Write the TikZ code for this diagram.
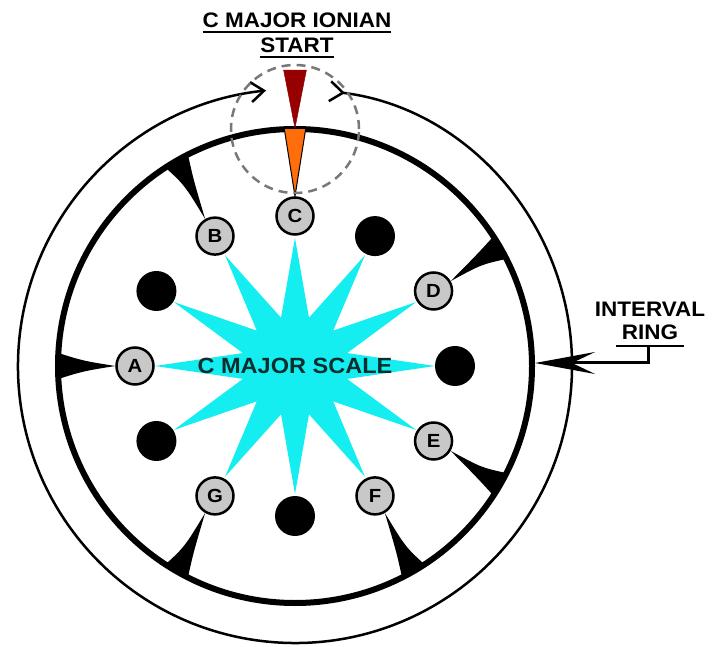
\documentclass[tikz,border=0pt]{standalone}
\usepackage{fontspec}
\setmainfont{Liberation Sans}[FakeStretch=1.07]
\usetikzlibrary{arrows.meta, positioning, calc}
\definecolor{starcolor}{RGB}{20,238,240}
\definecolor{notecolor}{RGB}{200,200,200}
\definecolor{startred}{RGB}{150,0,0}
\definecolor{startorange}{RGB}{255,110,10}
\definecolor{dashgray}{RGB}{120,120,120}
\definecolor{scaleink}{RGB}{10,45,45}

\begin{document}
\begin{tikzpicture}[
    x=1pt, y=1pt,
    note/.style={circle, draw, line width=2.5pt, fill=notecolor, minimum size=37pt, inner sep=0pt, font=\bfseries\fontsize{19}{19}\selectfont},
    blanknote/.style={circle, fill=black, minimum size=40pt, inner sep=0pt},
    headtext/.style={inner sep=0pt, anchor=base, font=\bfseries\fontsize{21}{21}\selectfont},
    uline/.style={line width=2.5pt},
    notepointer/.style={fill=black},
    intervalarrow/.style={line width=3pt, -{Stealth[length=60pt, width=22pt, inset=23pt]}},
    ringarrow/.style={line width=2.5pt, {Straight Barb[reversed, length=13pt, width=20pt]}-{Straight Barb[length=13pt, width=20pt]}}
]
    \useasboundingbox (-295,-281) rectangle (419,366);

    % Scale star
    \fill[starcolor] (90:140 and 128)
        \foreach \k in {0,...,11}{ -- ({75-30*\k}:54 and 50) -- ({60-30*\k}:140 and 128)} -- cycle;

    % Rings
    \draw[line width=6pt] (0,0) circle[radius=237];
    \draw[ringarrow] (83:277) arc[start angle=83, end angle=-264, radius=277];

    % Notes of the scale
    \foreach \ang/\nm/\txt in {90/c/C, 30/d/D, -30/e/E, -60/f/F, -120/g/G, 180/a/A, 120/b/B}
        \node[note] (note\nm) at (\ang:160 and 150) {\txt};
    \foreach \ang/\nm in {60/one, 0/two, -90/three, -150/four, 150/five}
        \node[blanknote] (dot\nm) at (\ang:160 and 150) {};

    % Interval pointers
    \foreach \ang/\nm in {180/a, 120/b, 30/d, -30/e, -60/f, -120/g}
        \fill[notepointer] ({\ang-3.2}:238) .. controls ({\ang-1.4}:212) .. (note\nm.\ang)
            .. controls ({\ang+1.4}:212) .. ({\ang+3.2}:238) -- cycle;

    % Ionian start
    \filldraw[fill=startorange, draw=black, line width=1pt] (87.4:238) -- (notec.north) -- (92.6:238) -- cycle;
    \filldraw[fill=startred, draw=startred, line width=0.5pt] (87.8:296) -- (90:238) -- (92.2:296) -- cycle;
    \draw[dashgray, line width=2.5pt, dash pattern=on 9pt off 6pt] (90:237) circle[radius=64];

    % Labels
    \node[headtext] (ioniantitle) at (2,338) {C MAJOR IONIAN};
    \node[headtext] (ionianstart) at (2,313) {START};
    \draw[uline] ([yshift=-4pt]ioniantitle.base west) -- ([yshift=-4pt]ioniantitle.base east);
    \draw[uline] ([yshift=-4pt]ionianstart.base west) -- ([yshift=-4pt]ionianstart.base east);

    \node[font=\bfseries\fontsize{22}{22}\selectfont, text=scaleink] (scalename) at (0,0) {C MAJOR SCALE};

    \node[headtext] (intervaltext) at (355,49) {INTERVAL};
    \node[headtext] (ringtext) at (355,26) {RING};
    \draw[uline] ([xshift=-6pt, yshift=-6pt]ringtext.base west) -- ([xshift=6pt, yshift=-6pt]ringtext.base east);
    \coordinate (ringstem) at ([xshift=-2pt, yshift=-6pt]ringtext.base);
    \coordinate (ringtip) at (240,3);
    \draw[intervalarrow] (ringstem) |- (ringtip);

\end{tikzpicture}
\end{document}
